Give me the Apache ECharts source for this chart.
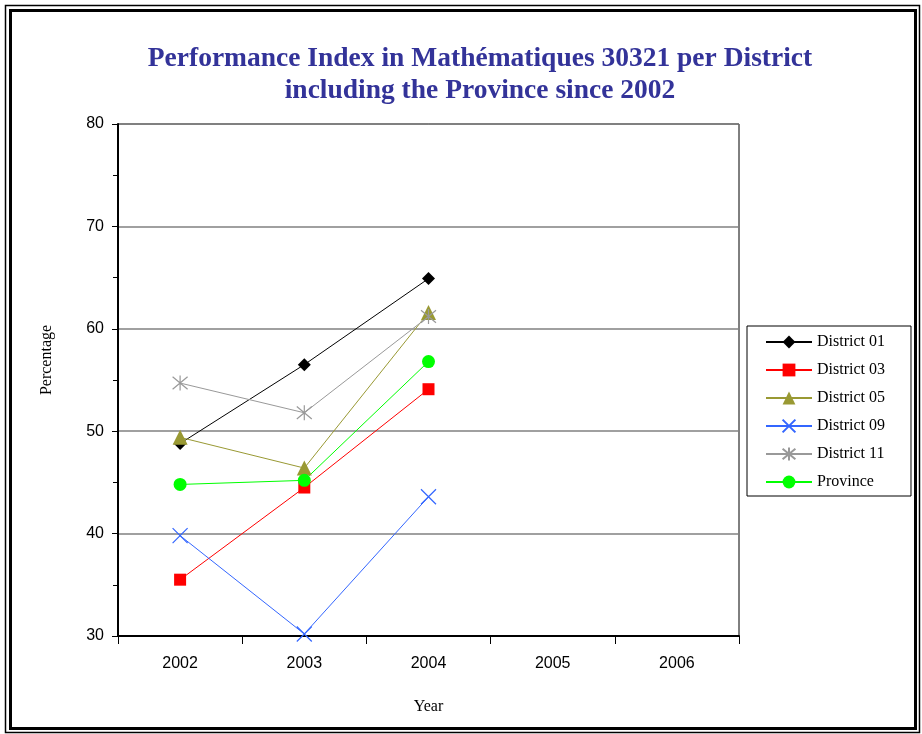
<!DOCTYPE html>
<html><head><meta charset="utf-8">
<script src="https://cdn.jsdelivr.net/npm/echarts@6/dist/echarts.min.js"></script>
<style>html,body{margin:0;padding:0;background:#fff}#c{width:922px;height:734px}</style>
</head><body><div id="c"></div>
<script>
var years = ['2002','2003','2004','2005','2006'];
var district01 = [48.8, 56.5, 64.9];
var district03 = [35.5, 44.5, 54.1];
var district05 = [49.4, 46.4, 61.6];
var district09 = [39.8, 30.2, 43.6];
var district11 = [54.7, 51.8, 61.2];
var province   = [44.8, 45.2, 56.8];
var seriesNames = ['District 01','District 03','District 05','District 09','District 11','Province'];
var yTicks = [30, 40, 50, 60, 70, 80];

var chart = echarts.init(document.getElementById('c'));
var serif = 'Liberation Serif, Times New Roman, serif';
var sans = 'Liberation Sans, Arial, sans-serif';
var xPath = 'path://M0,0L10,10M10,0L0,10';
var starPath = 'path://M0,0L10,10M10,0L0,10M5,-1L5,11';
function mk(name, data, color, symbol, size, extra) {
  var s = {
    name: name, type: 'line', data: data, symbol: symbol, symbolSize: size,
    lineStyle: {color: color, width: 1}, itemStyle: {color: color},
    emphasis: {disabled: true}, z: 3
  };
  if (extra) { s.itemStyle = {color: 'rgba(0,0,0,0)', borderColor: color, borderWidth: 1.2}; }
  return s;
}
chart.setOption({
  animation: false,
  backgroundColor: '#fff',
  title: {
    text: 'Performance Index in Mathématiques 30321 per District\nincluding the Province since 2002',
    left: 475, top: 38, textAlign: 'center',
    textStyle: {fontFamily: serif, fontWeight: 'bold', fontSize: 27.5, color: '#333399', lineHeight: 32}
  },
  grid: {left: 118, top: 124, right: 183, bottom: 98, show: true, borderColor: '#000', borderWidth: 1},
  legend: {
    orient: 'vertical', left: 747, top: 326,
    data: seriesNames,
    itemWidth: 46, itemHeight: 16, itemGap: 12,
    padding: [8, 26, 6, 18],
    borderColor: '#000', borderWidth: 1,
    textStyle: {fontFamily: serif, fontSize: 16, color: '#000'}
  },
  xAxis: {
    type: 'category', data: years, boundaryGap: true,
    name: 'Year', nameLocation: 'middle', nameGap: 63,
    nameTextStyle: {fontFamily: serif, fontSize: 16, color: '#000'},
    axisLine: {lineStyle: {color: '#000', width: 2}},
    axisTick: {show: true, length: 8, lineStyle: {color: '#000', width: 1}},
    axisLabel: {fontFamily: sans, fontSize: 16, color: '#000', margin: 20},
    splitLine: {show: false}
  },
  yAxis: {
    type: 'value', min: 30, max: 80, interval: 10,
    axisLine: {show: true, lineStyle: {color: '#000', width: 2}},
    axisTick: {show: true, length: 6, lineStyle: {color: '#000', width: 1}},
    minorTick: {show: true, splitNumber: 2, length: 5, lineStyle: {color: '#000', width: 1}},
    axisLabel: {fontFamily: sans, fontSize: 16, color: '#000', margin: 14,
      formatter: function (v) { return yTicks.indexOf(v) >= 0 ? String(v) : ''; }},
    splitLine: {show: true, lineStyle: {color: '#808080', width: 1.5}}
  },
  graphic: [
    {type: 'rect', shape: {x: 5.5, y: 5.5, width: 914, height: 727}, style: {fill: 'none', stroke: '#000', lineWidth: 1.5}, silent: true},
    {type: 'rect', shape: {x: 10.5, y: 10.5, width: 905, height: 718}, style: {fill: 'none', stroke: '#000', lineWidth: 3}, silent: true},
    {type: 'text', x: 47, y: 360, rotation: Math.PI / 2, silent: true,
      style: {text: 'Percentage', fontFamily: serif, fontSize: 16, fill: '#000', align: 'center', verticalAlign: 'middle'}}
  ],
  series: [
    mk(seriesNames[0], district01, '#000000', 'diamond', 13),
    mk(seriesNames[1], district03, '#FF0000', 'rect', 12),
    mk(seriesNames[2], district05, '#999933', 'triangle', 15),
    mk(seriesNames[3], district09, '#3366FF', xPath, 15, true),
    mk(seriesNames[4], district11, '#999999', starPath, 15, true),
    mk(seriesNames[5], province, '#00FF00', 'circle', 13)
  ]
});
</script></body></html>
